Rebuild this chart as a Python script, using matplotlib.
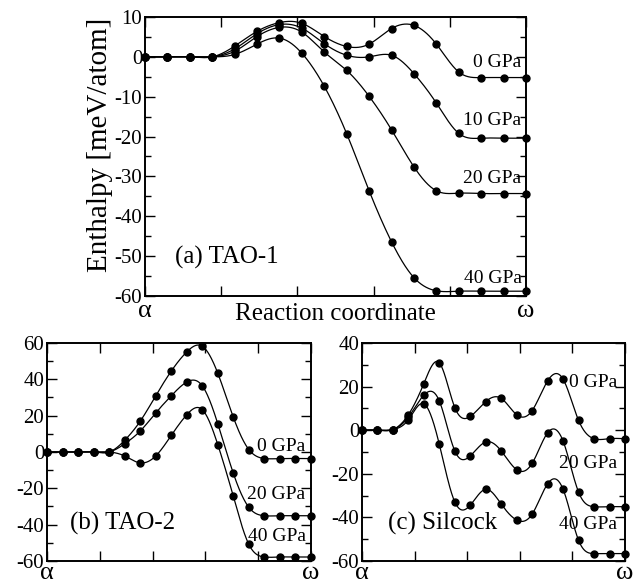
import numpy as np
import matplotlib
matplotlib.use("Agg")
import matplotlib.pyplot as plt
from matplotlib.ticker import MultipleLocator
from matplotlib.transforms import offset_copy

plt.rcParams['font.family'] = ['Liberation Serif', 'DejaVu Serif']
plt.rcParams['axes.unicode_minus'] = False

# ---------------- data ----------------
n_images = 18
images = list(range(n_images))

tao1_labels = ["0 GPa", "10 GPa", "20 GPa", "40 GPa"]
tao1_0 = [0, 0, 0, 0, 2.7, 6.4, 8.6, 8.4, 5.1, 2.6, 3.2, 7.1, 7.9, 3.2, -3.8, -5.2, -5.2, -5.2]
tao1_10 = [0, 0, 0, 0, 2.0, 5.8, 8.1, 7.2, 3.3, 0.4, 0.0, 0.4, -4.2, -11.6, -19.2, -20.4, -20.4, -20.4]
tao1_20 = [0, 0, 0, 0, 1.4, 5.1, 7.4, 6.2, 1.2, -3.4, -9.9, -18.3, -27.6, -33.6, -34.2, -34.3, -34.3, -34.3]
tao1_40 = [0, 0, 0, 0, 0.6, 3.2, 4.7, 0.9, -7.4, -19.3, -33.6, -46.4, -55.4, -58.7, -58.8, -58.8, -58.8, -58.8]
tao1_label_y = [-1.5, -16.0, -30.6, -55.5]

tao2_labels = ["0 GPa", "20 GPa", "40 GPa"]
tao2_0 = [0, 0, 0, 0, 0, 6.4, 16.9, 30.9, 44.5, 55.1, 58.2, 43.3, 19.1, 1.3, -3.6, -3.6, -3.6, -3.6]
tao2_20 = [0, 0, 0, 0, 0, 4.5, 11.5, 21.5, 30.9, 38.5, 36.4, 15.5, -11.8, -30.5, -35.1, -35.1, -35.1, -35.1]
tao2_40 = [0, 0, 0, 0, 0, -2.2, -6.0, -2.2, 9.1, 20.5, 23.3, 4.0, -24.5, -50.9, -57.8, -57.8, -57.8, -57.8]
tao2_label_y = [3.0, -23.6, -46.4]

silc_labels = ["0 GPa", "20 GPa", "40 GPa"]
silc_0 = [0, 0, 0.3, 7.1, 21.4, 30.9, 10.4, 6.3, 13.1, 14.6, 7.1, 9.0, 22.6, 23.4, 4.5, -3.9, -3.9, -3.9]
silc_20 = [0, 0, 0.3, 6.0, 16.1, 13.4, -9.5, -11.8, -5.4, -9.5, -18.1, -15.2, -1.2, -5.0, -28.4, -35.1, -35.1, -35.1]
silc_40 = [0, 0, 0.3, 4.8, 12.1, -6.5, -32.9, -34.4, -27.1, -33.9, -41.2, -38.5, -24.6, -27.1, -50.5, -56.6, -56.6, -56.6]
silc_label_y = [21.7, -15.5, -43.4]


def natural_spline(x, y, num=600):
    x = np.asarray(x, float)
    y = np.asarray(y, float)
    n = len(x)
    h = np.diff(x)
    A = np.zeros((n, n))
    b = np.zeros(n)
    A[0, 0] = 1
    A[-1, -1] = 1
    for i in range(1, n - 1):
        A[i, i - 1] = h[i - 1]
        A[i, i] = 2 * (h[i - 1] + h[i])
        A[i, i + 1] = h[i]
        b[i] = 6 * ((y[i + 1] - y[i]) / h[i] - (y[i] - y[i - 1]) / h[i - 1])
    M = np.linalg.solve(A, b)
    xs = np.linspace(x[0], x[-1], num)
    idx = np.clip(np.searchsorted(x, xs) - 1, 0, n - 2)
    x0, x1 = x[idx], x[idx + 1]
    hh = x1 - x0
    t1 = x1 - xs
    t0 = xs - x0
    ys = (M[idx] * t1 ** 3 / (6 * hh) + M[idx + 1] * t0 ** 3 / (6 * hh)
          + (y[idx] / hh - M[idx] * hh / 6) * t1
          + (y[idx + 1] / hh - M[idx + 1] * hh / 6) * t0)
    return xs, ys


fig = plt.figure(figsize=(6.41, 5.84), dpi=100)

ax_a = fig.add_axes([0.2262, 0.4932, 0.5944, 0.4777])
ax_b = fig.add_axes([0.0733, 0.0394, 0.4119, 0.3733])
ax_c = fig.add_axes([0.5647, 0.0394, 0.4103, 0.3733])


def style(ax, ylim, major, minor, greek_offset):
    ax.set_xlim(0, n_images - 1)
    ax.set_ylim(*ylim)
    ax.set_xticks(np.linspace(0, n_images - 1, 6))
    ax.set_xticklabels([])
    ax.yaxis.set_major_locator(MultipleLocator(major))
    ax.yaxis.set_minor_locator(MultipleLocator(minor))
    ax.tick_params(which='major', direction='in', top=True, right=True,
                   length=7, width=1.0, labelsize=15, pad=2)
    ax.tick_params(which='minor', direction='in', right=True, length=4, width=1.0)
    for s in ax.spines.values():
        s.set_linewidth(1.4)
    tr = offset_copy(ax.get_xaxis_transform(), fig=fig, x=0, y=greek_offset,
                     units='dots')
    ax.text(0, 0, "α", transform=tr, ha='center', va='baseline', fontsize=19)
    ax.text(n_images - 1, 0, "ω", transform=tr, ha='center', va='baseline',
            fontsize=19)


def draw(ax, series):
    for s in series:
        xs, ys = natural_spline(images, s)
        ax.plot(xs, ys, color='black', lw=0.9, zorder=2)
        ax.plot(images, s, 'o', color='black', ms=5, zorder=3, clip_on=False)


# (a) TAO-1
draw(ax_a, [tao1_0, tao1_10, tao1_20, tao1_40])
style(ax_a, (-60, 10), 10, 5, -21)
for lab, yy in zip(tao1_labels, tao1_label_y):
    ax_a.text(16.8, yy, lab, ha='right', va='center', fontsize=14)
ax_a.text(1.34, -50.4, "(a) TAO-1", ha='left', va='center', fontsize=18)
ax_a.set_xlabel("Reaction coordinate", fontsize=18, labelpad=3)
ax_a.set_ylabel("Enthalpy [meV/atom]", fontsize=21)
ax_a.yaxis.set_label_coords(-0.085, 0.54)

# (b) TAO-2
draw(ax_b, [tao2_0, tao2_20, tao2_40])
style(ax_b, (-60, 60), 20, 10, -18)
for lab, yy in zip(tao2_labels, tao2_label_y):
    ax_b.text(16.65, yy, lab, ha='right', va='center', fontsize=14)
ax_b.text(1.5, -39.1, "(b) TAO-2", ha='left', va='center', fontsize=18)

# (c) Silcock
draw(ax_c, [silc_0, silc_20, silc_40])
style(ax_c, (-60, 40), 20, 10, -18)
for lab, yy in zip(silc_labels, silc_label_y):
    ax_c.text(16.5, yy, lab, ha='right', va='center', fontsize=14)
ax_c.text(1.7, -42.7, "(c) Silcock", ha='left', va='center', fontsize=18)

fig.savefig("out.png", dpi=100)
